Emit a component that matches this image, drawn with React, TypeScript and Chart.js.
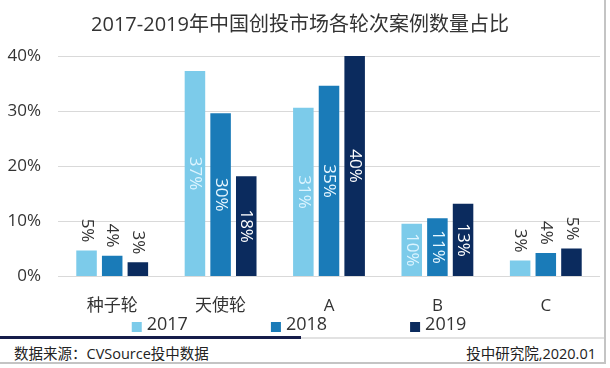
import React, { useEffect, useRef } from "react";
import { Chart, registerables } from "chart.js";

Chart.register(...registerables);

const categories = ["种子轮", "天使轮", "A", "B", "C"];
const seriesNames = ["2017", "2018", "2019"];
const values2017 = [4.75, 37.3, 30.6, 9.6, 2.9];
const values2018 = [3.8, 29.6, 34.6, 10.6, 4.3];
const values2019 = [2.6, 18.2, 40, 13.2, 5.1];
const yTicks = [0, 10, 20, 30, 40];
const titleText = "2017-2019年中国创投市场各轮次案例数量占比";
const sourceText = "数据来源：CVSource投中数据";
const creditText = "投中研究院,2020.01";

const FONT = '"Open Sans", "Noto Sans CJK SC", sans-serif';
const barColors = ["#7ccbea", "#1a7bb8", "#0b2b5e"];
const insideLabelColors = ["#dcf4ff", "#e8f7ff", "#ffffff"];
const outsideLabelColor = "#333333";
const insideThreshold = 6;

const barLabelsPlugin = {
  id: "barLabels",
  afterDatasetsDraw(chart: any) {
    const ctx = chart.ctx;
    ctx.save();
    ctx.font = `17px ${FONT}`;
    ctx.textBaseline = "middle";
    chart.data.datasets.forEach((ds: any, di: number) => {
      const meta = chart.getDatasetMeta(di);
      meta.data.forEach((bar: any, i: number) => {
        const v = ds.data[i] as number;
        const txt = Math.round(v) + "%";
        const { x, y, base } = bar.getProps(["x", "y", "base"], true);
        const inside = v >= insideThreshold;
        ctx.save();
        ctx.translate(x, inside ? (y + base) / 2 : y - 8);
        ctx.rotate(Math.PI / 2);
        ctx.textAlign = inside ? "center" : "right";
        ctx.fillStyle = inside ? insideLabelColors[di] : outsideLabelColor;
        ctx.fillText(txt, 0, 0);
        ctx.restore();
      });
    });
    ctx.restore();
  },
};

const customLegendPlugin = {
  id: "customLegend",
  afterDraw(chart: any) {
    const ctx = chart.ctx;
    ctx.save();
    ctx.font = `18px ${FONT}`;
    ctx.textBaseline = "middle";
    ctx.textAlign = "left";
    const box = 10;
    const gapText = 5;
    const gapItems = 83;
    const items = chart.data.datasets.map((ds: any) => ({
      label: ds.label,
      color: ds.backgroundColor,
      w: box + gapText + ctx.measureText(ds.label).width,
    }));
    const total =
      items.reduce((s: number, it: any) => s + it.w, 0) + gapItems * (items.length - 1);
    let x = chart.width / 2 - 3 - total / 2;
    const cy = 325;
    items.forEach((it: any) => {
      ctx.fillStyle = it.color;
      ctx.fillRect(x, cy - 3, box, box);
      ctx.fillStyle = "#333333";
      ctx.fillText(it.label, x + box + gapText, cy);
      x += it.w + gapItems;
    });
    ctx.restore();
  },
};

export default function App() {
  const ref = useRef<HTMLCanvasElement | null>(null);

  useEffect(() => {
    if (!ref.current) return;
    const series = [values2017, values2018, values2019];
    const chart = new Chart(ref.current, {
      type: "bar",
      data: {
        labels: categories,
        datasets: seriesNames.map((name, i) => ({
          label: name,
          data: series[i],
          backgroundColor: barColors[i],
          borderWidth: 0,
          categoryPercentage: 0.71,
          barPercentage: 0.8,
        })),
      },
      options: {
        animation: false,
        responsive: false,
        layout: { padding: { left: 0, right: 4, top: 0, bottom: 1 } },
        plugins: {
          legend: { display: false },
          tooltip: { enabled: false },
          title: {
            display: true,
            text: titleText,
            color: "#333333",
            font: { family: FONT, size: 20, weight: "normal" },
            padding: { top: 13, bottom: 19 },
          },
        },
        scales: {
          x: {
            grid: { display: false, drawTicks: false },
            border: { display: false },
            ticks: {
              color: "#333333",
              font: { family: FONT, size: 17 },
              padding: 19,
            },
          },
          y: {
            min: yTicks[0],
            max: yTicks[yTicks.length - 1],
            afterBuildTicks: (scale: any) => {
              scale.ticks = yTicks.map((v) => ({ value: v }));
            },
            afterFit: (scale: any) => {
              scale.width = 58;
            },
            grid: { color: "#d9d9d9", drawTicks: false, lineWidth: 1 },
            border: { display: false },
            ticks: {
              color: "#333333",
              font: { family: FONT, size: 17 },
              padding: 17,
              callback: (v: any) => v + "%",
            },
          },
        },
      },
      plugins: [barLabelsPlugin, customLegendPlugin],
    });
    return () => chart.destroy();
  }, []);

  return (
    <div
      style={{
        position: "absolute",
        left: 0,
        top: 0,
        width: 604,
        height: 362,
        background: "#ffffff",
        borderRight: "2px solid #c4c4c4",
        borderBottom: "2px solid #c4c4c4",
        overflow: "hidden",
        fontFamily: FONT,
      }}
    >
      <canvas ref={ref} width={604} height={336} style={{ display: "block" }} />
      <div
        style={{
          position: "absolute",
          left: 0,
          top: 336,
          width: 301,
          height: 3,
          background: "#161d4a",
        }}
      />
      <div
        style={{
          position: "absolute",
          left: 301,
          top: 337,
          width: 303,
          height: 2,
          background: "#e2e2e2",
        }}
      />
      <div
        style={{
          position: "absolute",
          left: 14,
          top: 344,
          fontSize: 14.5,
          lineHeight: "20px",
          color: "#222222",
          whiteSpace: "nowrap",
        }}
      >
        {sourceText}
      </div>
      <div
        style={{
          position: "absolute",
          right: 8,
          top: 344,
          fontSize: 14.5,
          lineHeight: "20px",
          color: "#222222",
          whiteSpace: "nowrap",
        }}
      >
        {creditText}
      </div>
    </div>
  );
}
